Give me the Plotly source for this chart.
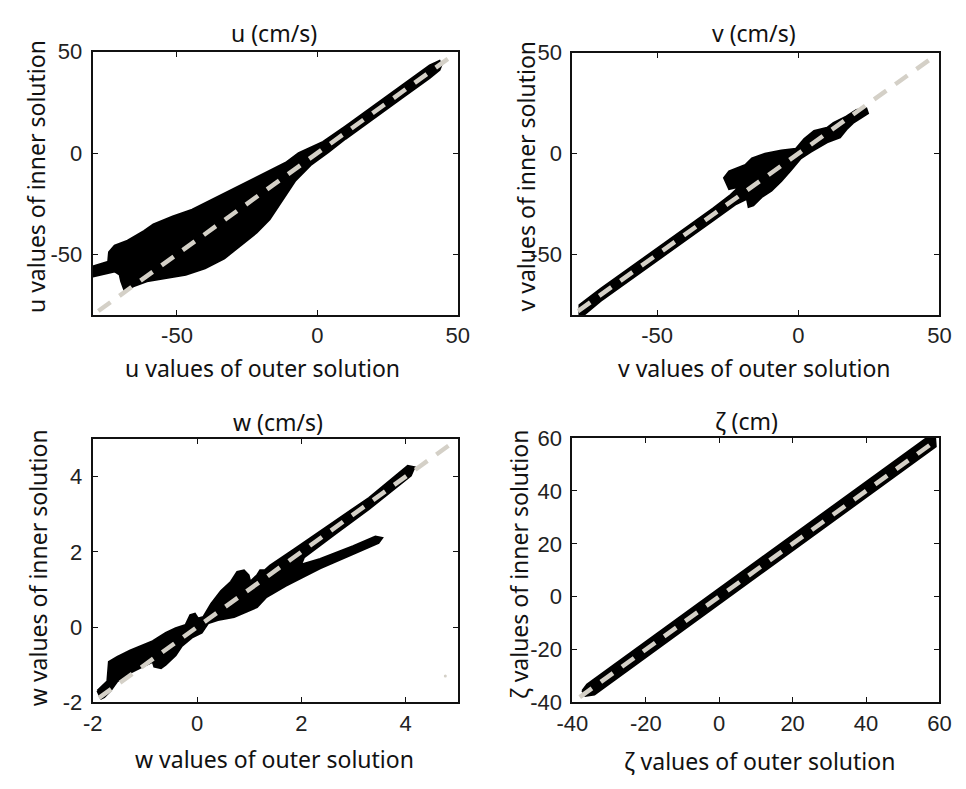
import plotly.graph_objects as go

# ---------------- data ----------------
# outline of the black scatter cloud, u panel (outer, inner)
u_cloud_x = [-80, -76.8, -74.5, -74.2, -72.2, -67.6, -61.8, -58.4, -51.5, -44.6, -37.7, -30.8,
             -23.9, -17, -11.3, -6.7, -2, 2, 10, 20, 30, 40, 43.5, 44.2,
             43.5, 40, 30, 20, 10, 4, -2.1, -7.8, -12.4, -17, -21.6, -27.3, -33.1, -40,
             -46.9, -53.8, -60.7, -65.3, -68.7, -69.9, -70.4, -72.2, -76.8, -80]
u_cloud_y = [-56, -54.5, -53.7, -48.9, -45.7, -43.3, -38.5, -35.2, -31.3, -28, -23.2, -18.4,
             -13.6, -8.8, -4.8, 0, 3, 5.5, 13.2, 23.2, 33.2, 43.2, 45.5, 43.5,
             41, 37, 27, 17, 7, 0.5, -5.6, -13.6, -23.2, -32.8, -39.3, -45.7, -52, -56.9,
             -60.1, -61.7, -63.3, -65.7, -67.8, -63.3, -60.1, -58.5, -60.1, -61]

v_cloud_x = [-77.5, -77.5, -70, -60, -50, -40, -30, -24, -21, -24.5, -26.3, -24.5, -18.75, -16.4,
             -11.8, -6, -0.8, 2.1, 5.6, 10.2, 12.5, 17.1, 20.6, 24.1,
             24.7, 19.4, 17.1, 14.8, 10.2, 4.4, 0.9, -2.5, -6, -9.5, -13, -15.9, -17.6, -18.2,
             -22, -30, -40, -50, -60, -70, -76]
v_cloud_y = [-80, -75, -67, -57, -47, -37, -27, -20.5, -16.5, -17.6, -12, -8.8, -5.6, -2.4,
             0, 1.6, 2.4, 7.2, 11.2, 12.8, 15.2, 18.4, 21.6, 22.4,
             20, 15.2, 12, 8, 5.6, 0.8, -2.4, -8, -13.6, -18.4, -21.6, -25.6, -26.4, -22.4,
             -25, -33, -43, -53, -63, -73, -80]

w_cloud_x = [-1.91, -1.72, -1.69, -1.53, -1.28, -0.85, -0.6, -0.41, -0.22, -0.13, -0.04, 0.02,
             0.12, 0.27, 0.46, 0.65, 0.77, 0.9, 0.99, 1.02, 1.15, 1.21, 1.3, 1.4, 1.86, 2.67,
             3.3, 4.04, 4.17, 4.1, 3.3, 2.67, 2.05, 2.0, 1.75, 1.6, 2.36, 2.99, 3.42, 3.55,
             3.48, 2.99, 2.36, 1.7, 1.33, 1.15, 0.71, 0.4, 0.21, 0.09, -0.1, -0.29, -0.41,
             -0.6, -0.69, -0.82, -0.85, -1.1, -1.35, -1.53, -1.66, -1.78, -1.84]
w_cloud_y = [-1.69, -1.44, -0.92, -0.79, -0.62, -0.37, -0.15, -0.03, 0.06, 0.32, 0.36, 0.23,
             0.27, 0.62, 0.96, 1.21, 1.47, 1.51, 1.38, 1.21, 1.38, 1.51, 1.51, 1.64, 2.07, 2.84,
             3.44, 4.29, 4.25, 4.03, 3.14, 2.5, 1.85, 1.68, 1.62, 1.5, 1.81, 2.15, 2.41, 2.37,
             2.24, 1.94, 1.56, 1.1, 0.8, 0.53, 0.27, 0.19, 0.1, -0.15, -0.28, -0.5, -0.75,
             -1.0, -1.09, -1.05, -0.92, -1.09, -1.26, -1.44, -1.69, -1.86, -1.9]

z_cloud_x = [-37.3, -36.0, 57.5, 58.8, 59.0, -34.0, -36.5]
z_cloud_y = [-35.6, -33.2, 61.0, 60.5, 56.8, -37.0, -37.5]

# 1:1 reference lines (start, end)
u_ref = [-78, 47]
v_ref = [-78, 47]
w_ref = [-1.88, 4.82]
z_ref = [-38, 58]

# stray grey dot in the w panel
w_dot_x = [4.76]
w_dot_y = [-1.3]

titles = ["u (cm/s)", "v (cm/s)", "w (cm/s)", "ζ (cm)"]
xlabels = ["u values of outer solution", "v values of outer solution",
           "w values of outer solution", "ζ values of outer solution"]
ylabels = ["u values of inner solution", "v values of inner solution",
           "w values of inner solution", "ζ values of inner solution"]
ranges = [[-80, 50], [-80, 50], [-2, 5], [-40, 60]]
tickvals = [[-50, 0, 50], [-50, 0, 50], [-2, 0, 2, 4], [-40, -20, 0, 20, 40, 60]]
ticktexts = [["-50", "0", "50"], ["-50", "0", "50"], ["-2", "0", "2", "4"],
             ["-40", "-20", "0", "20", "40", "60"]]

# ---------------- figure ----------------
W, H = 966, 789
# plot boxes in pixels: (left, right, top, bottom)
boxes = [(79, 455, 41, 313), (573, 951, 42, 313), (79, 455, 441, 713), (573, 951, 440, 713)]

fig = go.Figure()
clouds = [(u_cloud_x, u_cloud_y), (v_cloud_x, v_cloud_y), (w_cloud_x, w_cloud_y), (z_cloud_x, z_cloud_y)]
refs = [u_ref, v_ref, w_ref, z_ref]

GREY = "#d4d0c7"
for i in range(4):
    xa = "x" if i == 0 else f"x{i+1}"
    ya = "y" if i == 0 else f"y{i+1}"
    cx, cy = clouds[i]
    fig.add_trace(go.Scatter(x=cx + [cx[0]], y=cy + [cy[0]], mode="lines", fill="toself",
                             fillcolor="black", line=dict(color="black", width=2),
                             xaxis=xa, yaxis=ya, hoverinfo="skip"))
    fig.add_trace(go.Scatter(x=refs[i], y=refs[i], mode="lines",
                             line=dict(color=GREY, width=4.5, dash="15px,11px"),
                             xaxis=xa, yaxis=ya, hoverinfo="skip"))
fig.add_trace(go.Scatter(x=w_dot_x, y=w_dot_y, mode="markers",
                         marker=dict(color=GREY, size=3), xaxis="x3", yaxis="y3"))

TICKFONT = dict(family="Liberation Sans, Arial, sans-serif", size=22, color="#222")
LABFONT = dict(family="Noto Sans, Open Sans, sans-serif", size=23, color="#111")

layout = dict(width=W, height=H, margin=dict(l=0, r=0, t=0, b=0),
              paper_bgcolor="white", plot_bgcolor="white", showlegend=False)
for i, (l, r, t, b) in enumerate(boxes):
    xk = "xaxis" if i == 0 else f"xaxis{i+1}"
    yk = "yaxis" if i == 0 else f"yaxis{i+1}"
    ya = "y" if i == 0 else f"y{i+1}"
    xa = "x" if i == 0 else f"x{i+1}"
    common = dict(showgrid=False, zeroline=False, showline=True, linecolor="#111", linewidth=2,
                  mirror="ticks", ticks="inside", ticklen=5, tickwidth=1.2, tickcolor="#111",
                  tickfont=TICKFONT, range=ranges[i], tickmode="array",
                  tickvals=tickvals[i], ticktext=ticktexts[i])
    layout[xk] = dict(common, domain=[l / W, r / W], anchor=ya, ticklabelstandoff=0)
    layout[yk] = dict(common, domain=[1 - b / H, 1 - t / H], anchor=xa, ticklabelstandoff=4)
fig.update_layout(**layout)

# titles / labels positions in pixels (center x, center y)
title_pos = [(266, 22), (760, 22), (270, 423), (752, 422)]
xlab_pos = [(254, 368), (761, 368), (266, 771), (766, 774)]
ylab_pos = [(20, 170), (525, 170), (22, 574), (518, 570)]
for i in range(4):
    fig.add_annotation(text=titles[i], x=title_pos[i][0] / W, y=1 - title_pos[i][1] / H,
                       xref="paper", yref="paper", showarrow=False, font=LABFONT,
                       xanchor="center", yanchor="middle")
    fig.add_annotation(text=xlabels[i], x=xlab_pos[i][0] / W, y=1 - xlab_pos[i][1] / H,
                       xref="paper", yref="paper", showarrow=False, font=LABFONT,
                       xanchor="center", yanchor="middle")
    fig.add_annotation(text=ylabels[i], x=ylab_pos[i][0] / W, y=1 - ylab_pos[i][1] / H,
                       xref="paper", yref="paper", showarrow=False, font=LABFONT,
                       xanchor="center", yanchor="middle", textangle=-90)

fig.write_html("out.html")
